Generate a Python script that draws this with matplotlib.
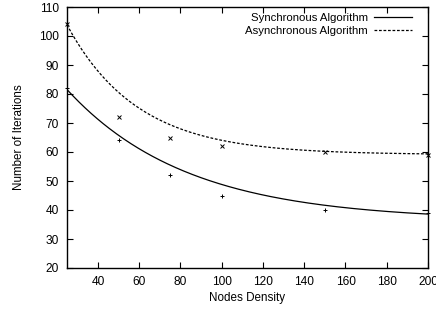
import numpy as np
import matplotlib
matplotlib.use("Agg")
import matplotlib.pyplot as plt

plt.rcParams['font.family'] = ['Liberation Sans', 'DejaVu Sans']

# measured points
density = [25, 50, 75, 100, 150, 200]
sync_iter = [82, 64, 52, 45, 40, 39]
async_iter = [104, 72, 65, 62, 60, 59]

# samples
curve_x = [25, 43.4, 65.2, 70.1, 108.9, 113.7, 152.5, 157.3, 200]
sync_curve = [81.4, 69.5, 59.0, 57.2, 46.9, 46.3, 41.1, 40.9, 38.9]
async_curve = [104, 84.8, 72.8, 71.0, 63.2, 62.8, 60.1, 59.9, 59.0]


def fit_exp(x, y):
    # y = a + b*exp(-c*x), grid over c, least squares for a,b
    x = np.asarray(x, float)
    y = np.asarray(y, float)
    best = None
    for c in np.linspace(0.001, 0.1, 2000):
        A = np.column_stack([np.ones_like(x), np.exp(-c * x)])
        coef = np.linalg.lstsq(A, y, rcond=None)[0]
        err = np.sum((A @ coef - y) ** 2)
        if best is None or err < best[0]:
            best = (err, coef[0], coef[1], c)
    return best[1:]


xs = np.linspace(25, 200, 300)

fig = plt.figure(figsize=(4.36, 3.13), dpi=100)
ax = fig.add_axes([67 / 436, 1 - 268 / 313, 361 / 436, 261 / 313])

a, b, c = fit_exp(curve_x, sync_curve)
ax.plot(xs, a + b * np.exp(-c * xs), color='black', lw=0.9,
        label='Synchronous Algorithm')
a, b, c = fit_exp(curve_x, async_curve)
ax.plot(xs, a + b * np.exp(-c * xs), color='black', lw=0.9,
        linestyle=(0, (2.2, 1.4)), label='Asynchronous Algorithm')

ax.plot(density, sync_iter, '+', color='black', ms=3.5, mew=0.7, clip_on=False)
ax.plot(density, async_iter, 'x', color='black', ms=3, mew=0.7, clip_on=False)

ax.set_xlim(25, 200)
ax.set_ylim(20, 110)
ax.set_xticks([40, 60, 80, 100, 120, 140, 160, 180, 200])
ax.set_yticks(range(20, 111, 10))
ax.tick_params(direction='in', length=4, width=0.8, labelsize=8.6,
               top=True, right=True, pad=6)
for s in ax.spines.values():
    s.set_linewidth(1.0)

ax.set_xlabel('Nodes Density', fontsize=8.4, labelpad=3)
ax.set_ylabel('Number of Iterations', fontsize=8.4, labelpad=10)

leg = ax.legend(loc='upper right', frameon=False, markerfirst=False,
                fontsize=8.2, handlelength=3.4, handletextpad=0.5,
                labelspacing=0.3, borderaxespad=0.1,
                bbox_to_anchor=(1 - 10 / 361, 1.0))
for t in leg.get_texts():
    t.set_ha('right')

fig.savefig('out.png', dpi=100)
